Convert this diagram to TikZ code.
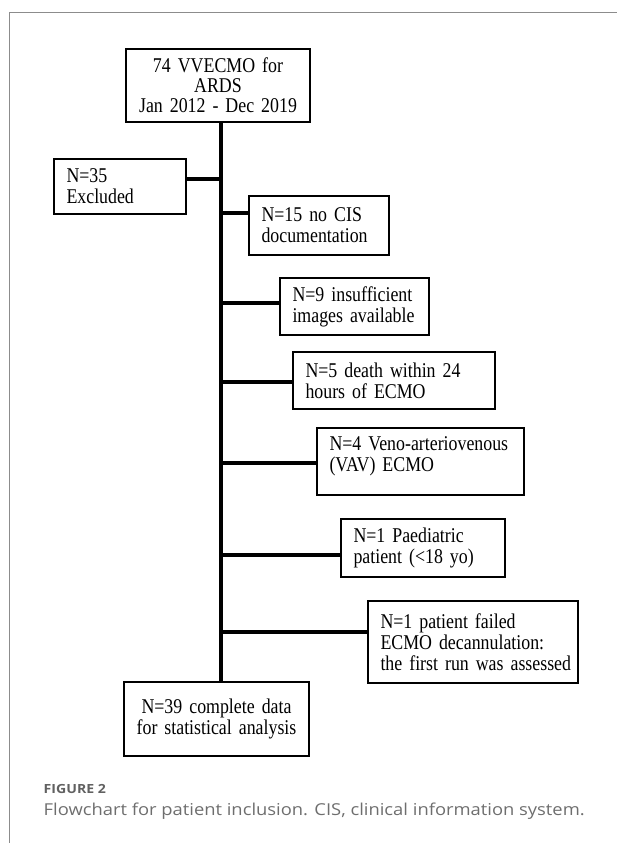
\documentclass[tikz,border=0pt]{standalone}
\usepackage{fontspec}
\setmainfont[FakeStretch=0.85]{Liberation Serif}
\newfontfamily\capfont[FakeStretch=1.12]{Open Sans}
\begin{document}
\begin{tikzpicture}[x=1pt,y=-1pt,
  box/.style={draw=black, line width=1.4pt, rectangle, inner xsep=12.5pt, inner ysep=0pt,
    font=\fontsize{21}{21}\selectfont},
  lbox/.style 2 args={box, align=left, text width=#1-25pt, minimum width=#1, minimum height=#2},
  cbox/.style 2 args={box, align=center, text width=#1-25pt, minimum width=#1, minimum height=#2},
  conn/.style={line width=4.5pt, line cap=butt},
  frame/.style={draw=black!45, line width=1pt},
  caplbl/.style={anchor=base west, inner sep=0pt, text=black!62, font=\capfont\bfseries\fontsize{12.6}{15}\selectfont},
  captxt/.style={anchor=base west, inner sep=0pt, text=black!57, font=\capfont\fontsize{16.4}{20}\selectfont}
]
\useasboundingbox (0,0) rectangle (617,843);
\draw[frame] (9.5,843) -- (9.5,12.3) -- (617,12.3);

\node[cbox={184pt}{73pt}, font=\fontsize{21}{20}\selectfont] (top) at (218,85.5) {74 VVECMO for\\ARDS\\\mbox{Jan 2012 - Dec 2019}};
\node[lbox={132pt}{55pt}] (excl) at (120,186.5) {N=35\\Excluded};
\node[lbox={140pt}{59pt}] (n15) at (319,225.5) {\mbox{N=15 no CIS}\\documentation};
\node[lbox={149pt}{57pt}] (n9) at (354.5,306.5) {\mbox{N=9 insufficient}\\\mbox{images available}};
\node[lbox={202pt}{57pt}] (n5) at (394,380.5) {\mbox{N=5 death within 24}\\hours of ECMO};
\node[lbox={207pt}{67pt}] (n4) at (420.5,461.5) {\parbox[c][50pt][t]{182pt}{\mbox{N=4 Veno-arteriovenous}\\(VAV) ECMO}};
\node[lbox={164pt}{58pt}] (n1p) at (423,548) {\mbox{N=1 Paediatric}\\\mbox{patient (<18 yo)}};
\node[lbox={210pt}{82pt}] (n1f) at (473,642) {\mbox{N=1 patient failed}\\\mbox{ECMO decannulation:}\\\mbox{the first run was assessed}};
\node[cbox={185pt}{74pt}] (bot) at (216.5,719) {\mbox{N=39 complete data}\\\mbox{for statistical analysis}};

\coordinate (tx) at (221,0);
\coordinate (j1) at (221,179);
\coordinate (j2) at (221,213);
\coordinate (j3) at (221,303);
\coordinate (j4) at (221,382);
\coordinate (j5) at (221,463);
\coordinate (j6) at (221,555);
\coordinate (j7) at (221,632);

\draw[conn] (top.south -| tx) -- (bot.north -| tx);
\draw[conn] (j1) -- (j1 -| excl.east);
\draw[conn] (j2) -- (j2 -| n15.west);
\draw[conn] (j3) -- (j3 -| n9.west);
\draw[conn] (j4) -- (j4 -| n5.west);
\draw[conn] (j5) -- (j5 -| n4.west);
\draw[conn] (j6) -- (j6 -| n1p.west);
\draw[conn] (j7) -- (j7 -| n1f.west);

\node[caplbl] (figlbl) at (43.5,793.3) {FIGURE 2};
\node[captxt] (figcap) at (43.5,815) {Flowchart for patient inclusion. CIS, clinical information system.};
\end{tikzpicture}
\end{document}
